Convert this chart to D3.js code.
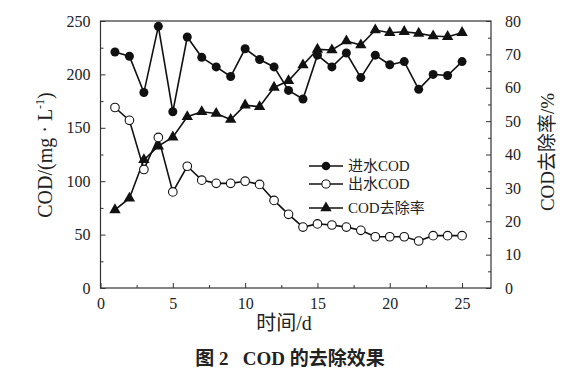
<!DOCTYPE html>
<meta charset="utf-8">
<style>
body { margin: 0; background: #fff; }
text { font-family: "Liberation Serif", "Noto Sans CJK SC", serif; fill: #222; }
.axis path, .axis line { stroke: #333; }
</style>
<svg id="chart" width="576" height="370"></svg>
<script src="https://cdn.jsdelivr.net/npm/d3@7"></script>
<script>

// days 1..25
var days = d3.range(1, 26);
var inflow = [221, 217, 183, 245, 165, 235, 216, 207, 198, 224, 214, 207, 185, 177,
              218, 207, 220, 197, 218, 209, 212, 186, 200, 199, 212];
var outflow = [169, 157, 111, 141, 90, 114, 101, 98, 98, 100, 97, 82, 69, 57,
               60, 59, 57, 54, 48, 48, 48, 44, 49, 49, 49];
var removal = [23.4, 26.9, 38.4, 42.5, 45.2, 51.3, 52.8, 52.3, 50.5, 54.8, 54.3, 60.1, 62.1, 66.8,
               71.5, 71.3, 74.0, 72.8, 77.3, 76.5, 76.8, 76.3, 75.5, 75.3, 76.5];
var xTicks = [0, 5, 10, 15, 20, 25];
var leftTicks = [0, 50, 100, 150, 200, 250];
var rightTicks = [0, 10, 20, 30, 40, 50, 60, 70, 80];
var legendNames = ["进水COD", "出水COD", "COD去除率"];

var svg = d3.select("#chart");
var box = {left: 100.5, right: 491, top: 21, bottom: 288};

var x = d3.scaleLinear().domain([0, 27]).range([box.left, box.right]);
var yL = d3.scaleLinear().domain([0, 250]).range([box.bottom, box.top]);
var yR = d3.scaleLinear().domain([0, 80]).range([box.bottom, box.top]);

// frame
svg.append("rect")
    .attr("x", box.left).attr("y", box.top)
    .attr("width", box.right - box.left).attr("height", box.bottom - box.top)
    .attr("fill", "none").attr("stroke", "#333").attr("stroke-width", 1.2);

// ticks point inward; minor ticks drawn as separate unlabeled axes
var gxm = svg.append("g").attr("class", "axis").attr("transform", "translate(0," + box.bottom + ")")
    .call(d3.axisTop(x).tickValues([2.5, 7.5, 12.5, 17.5, 22.5]).tickSize(3).tickFormat(""));
gxm.select(".domain").remove();
var gx = svg.append("g").attr("class", "axis").attr("transform", "translate(0," + box.bottom + ")")
    .call(d3.axisBottom(x).tickValues(xTicks).tickSize(-5).tickPadding(10));
gx.select(".domain").remove();
gx.selectAll("text").attr("font-size", 16).attr("dy", "0.7em");

var gylm = svg.append("g").attr("class", "axis").attr("transform", "translate(" + box.left + ",0)")
    .call(d3.axisRight(yL).tickValues([25, 75, 125, 175, 225]).tickSize(3).tickFormat(""));
gylm.select(".domain").remove();
var gyl = svg.append("g").attr("class", "axis").attr("transform", "translate(" + box.left + ",0)")
    .call(d3.axisLeft(yL).tickValues(leftTicks).tickSize(-5).tickPadding(10));
gyl.select(".domain").remove();
gyl.selectAll("text").attr("font-size", 16);

var gyrm = svg.append("g").attr("class", "axis").attr("transform", "translate(" + box.right + ",0)")
    .call(d3.axisLeft(yR).tickValues([5, 15, 25, 35, 45, 55, 65, 75]).tickSize(3).tickFormat(""));
gyrm.select(".domain").remove();
var gyr = svg.append("g").attr("class", "axis").attr("transform", "translate(" + box.right + ",0)")
    .call(d3.axisRight(yR).tickValues(rightTicks).tickSize(-5).tickPadding(14));
gyr.select(".domain").remove();
gyr.selectAll("text").attr("font-size", 16);

// lines
function drawLine(vals, y) {
  svg.append("path")
      .datum(vals)
      .attr("fill", "none").attr("stroke", "#111").attr("stroke-width", 1.6)
      .attr("d", d3.line().x(function(d, i) { return x(days[i]); }).y(function(d) { return y(d); }));
}
drawLine(removal, yR);
drawLine(outflow, yL);
drawLine(inflow, yL);

var tri = d3.symbol().type(d3.symbolTriangle).size(56);

svg.append("g").selectAll("path").data(removal).enter().append("path")
    .attr("d", tri)
    .attr("transform", function(d, i) { return "translate(" + x(days[i]) + "," + yR(d) + ")"; })
    .attr("fill", "#111");
svg.append("g").selectAll("circle").data(outflow).enter().append("circle")
    .attr("cx", function(d, i) { return x(days[i]); })
    .attr("cy", function(d) { return yL(d); })
    .attr("r", 4.3).attr("fill", "#fff").attr("stroke", "#111").attr("stroke-width", 1.1);
svg.append("g").selectAll("circle").data(inflow).enter().append("circle")
    .attr("cx", function(d, i) { return x(days[i]); })
    .attr("cy", function(d) { return yL(d); })
    .attr("r", 4.5).attr("fill", "#111");

// legend
var legY = [166, 184, 208];
legendNames.forEach(function(name, i) {
  var g = svg.append("g").attr("transform", "translate(0," + legY[i] + ")");
  g.append("line").attr("x1", 309).attr("x2", 343).attr("stroke", "#111").attr("stroke-width", 1.6);
  if (i == 0) g.append("circle").attr("cx", 326).attr("r", 4.3).attr("fill", "#111");
  if (i == 1) g.append("circle").attr("cx", 326).attr("r", 4.1).attr("fill", "#fff").attr("stroke", "#111");
  if (i == 2) g.append("path").attr("d", tri).attr("transform", "translate(326,0)").attr("fill", "#111");
  g.append("text").attr("x", 348).attr("dy", "0.35em").attr("font-size", 15).text(name);
});

// axis titles
svg.append("text")
    .attr("transform", "translate(52,155) rotate(-90)")
    .attr("text-anchor", "middle").attr("font-size", 20)
    .html("COD/(mg · L<tspan dy='-8' font-size='12'>-1</tspan><tspan dy='8'>)</tspan>");
svg.append("text")
    .attr("transform", "translate(554,152) rotate(-90)")
    .attr("text-anchor", "middle").attr("font-size", 19)
    .text("COD去除率/%");
svg.append("text")
    .attr("x", 284).attr("y", 330)
    .attr("text-anchor", "middle").attr("font-size", 20)
    .text("时间/d");
svg.append("text")
    .attr("x", 290).attr("y", 365)
    .attr("text-anchor", "middle").attr("font-size", 19).attr("font-weight", "bold")
    .attr("xml:space", "preserve")
    .text("图 2   COD 的去除效果");

</script>
